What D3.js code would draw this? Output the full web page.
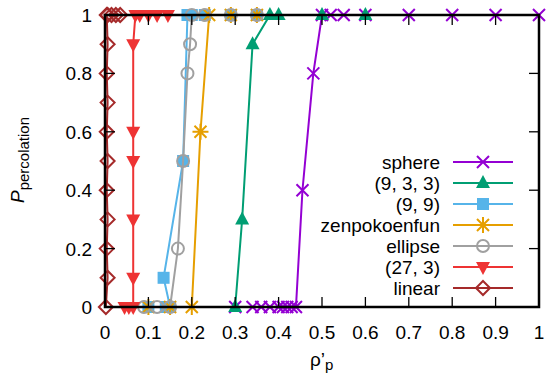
<!DOCTYPE html>
<html>
<head>
<meta charset="utf-8">
<script src="https://cdn.jsdelivr.net/npm/d3@7"></script>
<style>
body { margin: 0; background: #fff; }
text { font-family: "Liberation Sans", Arial, sans-serif; }
</style>
</head>
<body>
<svg width="547" height="383"></svg>
<script>
// series names, in the order they are drawn (and listed)
var names = ["sphere", "(9, 3, 3)", "(9, 9)", "zenpokoenfun", "ellipse", "(27, 3)", "linear"];
var colors = ["#9400d3", "#009e73", "#56b4e9", "#e69f00", "#a0a0a0", "#ee3333", "#a52a2a"];
var shapes = ["cross", "triUp", "square", "star", "circle", "triDown", "diamond"];

// rho'_p values and P_percolation values
var sphereX = [0.30, 0.34, 0.36, 0.38, 0.40, 0.41, 0.42, 0.43, 0.44, 0.455, 0.48, 0.50, 0.52, 0.55, 0.60, 0.70, 0.80, 0.90, 1.00];
var sphereY = [0, 0, 0, 0, 0, 0, 0, 0, 0, 0.4, 0.8, 1, 1, 1, 1, 1, 1, 1, 1];
var g933X = [0.30, 0.316, 0.34, 0.38, 0.40, 0.50, 0.60];
var g933Y = [0, 0.3, 0.9, 1, 1, 1, 1];
var g99X = [0.10, 0.14, 0.15, 0.135, 0.18, 0.19, 0.20, 0.23, 0.29, 0.35];
var g99Y = [0, 0, 0, 0.1, 0.5, 1, 1, 1, 1, 1];
var zenX = [0.10, 0.15, 0.20, 0.22, 0.24, 0.29, 0.35];
var zenY = [0, 0, 0, 0.6, 1, 1, 1];
var ellX = [0.09, 0.12, 0.15, 0.168, 0.18, 0.19, 0.196, 0.20, 0.23, 0.29, 0.35];
var ellY = [0, 0, 0, 0.2, 0.5, 0.8, 0.9, 1, 1, 1, 1];
var g273X = [0.045, 0.055, 0.065, 0.065, 0.065, 0.065, 0.065, 0.065, 0.07, 0.08, 0.10, 0.12, 0.145];
var g273Y = [0, 0, 0, 0.1, 0.3, 0.5, 0.6, 0.9, 1, 1, 1, 1, 1];
var linX = [0.002, 0.006, 0.004, 0.006, 0.004, 0.006, 0.004, 0.006, 0.004, 0.006, 0.004, 0.006, 0.015, 0.025, 0.035];
var linY = [0, 0.1, 0.2, 0.3, 0.4, 0.5, 0.6, 0.7, 0.8, 0.9, 1, 1, 1, 1, 1];

var xTicks = [0, 0.1, 0.2, 0.3, 0.4, 0.5, 0.6, 0.7, 0.8, 0.9, 1];
var yTicks = [0, 0.2, 0.4, 0.6, 0.8, 1];

var seriesX = [sphereX, g933X, g99X, zenX, ellX, g273X, linX];
var seriesY = [sphereY, g933Y, g99Y, zenY, ellY, g273Y, linY];

var svg = d3.select("svg");
var x = d3.scaleLinear().domain([0, 1]).range([105, 539]);
var y = d3.scaleLinear().domain([0, 1]).range([307, 15]);

function marker(sel, shape, cx, cy, color) {
    var s = 6;
    var g = sel.append("g").attr("transform", "translate(" + cx + "," + cy + ")");
    if (shape == "cross") {
        g.append("path").attr("d", "M-6,-6L6,6M-6,6L6,-6")
            .attr("stroke", color).attr("stroke-width", 2);
    } else if (shape == "star") {
        g.append("path").attr("d", "M-6,-6L6,6M-6,6L6,-6M-8,0L8,0M0,-8L0,8")
            .attr("stroke", color).attr("stroke-width", 2);
    } else if (shape == "triUp") {
        g.append("path").attr("d", "M0,-8L7,5L-7,5Z").attr("fill", color);
    } else if (shape == "triDown") {
        g.append("path").attr("d", "M0,8L7,-5L-7,-5Z").attr("fill", color);
    } else if (shape == "square") {
        g.append("rect").attr("x", -s).attr("y", -s).attr("width", 2 * s).attr("height", 2 * s).attr("fill", color);
    } else if (shape == "circle") {
        g.append("circle").attr("r", 6).attr("fill", "none").attr("stroke", color).attr("stroke-width", 2);
    } else if (shape == "diamond") {
        g.append("path").attr("d", "M0,-7L7,0L0,7L-7,0Z").attr("fill", "none")
            .attr("stroke", color).attr("stroke-width", 2);
    }
}

// data
var line = d3.line().x(function (d) { return x(d[0]); }).y(function (d) { return y(d[1]); });
var plot = svg.append("g");
for (var i = 0; i < names.length; i++) {
    var pts = d3.zip(seriesX[i], seriesY[i]);
    var gs = plot.append("g");
    gs.append("path").datum(pts).attr("d", line)
        .attr("fill", "none").attr("stroke", colors[i]).attr("stroke-width", 2);
    pts.forEach(function (p) { marker(gs, shapes[i], x(p[0]), y(p[1]), colors[i]); });
}

// ticks (inward, mirrored)
var axes = svg.append("g").attr("stroke", "#000").attr("stroke-width", 1.3);
xTicks.forEach(function (t) {
    axes.append("line").attr("x1", x(t)).attr("x2", x(t)).attr("y1", y(0)).attr("y2", y(0) - 10);
    axes.append("line").attr("x1", x(t)).attr("x2", x(t)).attr("y1", y(1)).attr("y2", y(1) + 10);
});
yTicks.forEach(function (t) {
    axes.append("line").attr("x1", x(0)).attr("x2", x(0) + 10).attr("y1", y(t)).attr("y2", y(t));
    axes.append("line").attr("x1", x(1)).attr("x2", x(1) - 10).attr("y1", y(t)).attr("y2", y(t));
});
svg.append("rect").attr("x", x(0)).attr("y", y(1))
    .attr("width", x(1) - x(0)).attr("height", y(0) - y(1))
    .attr("fill", "none").attr("stroke", "#000").attr("stroke-width", 2.5);

// tick labels
svg.selectAll(".xl").data(xTicks).enter().append("text")
    .attr("x", function (d) { return x(d); }).attr("y", 339)
    .attr("text-anchor", "middle").attr("font-size", 19)
    .text(function (d) { return d; });
svg.selectAll(".yl").data(yTicks).enter().append("text")
    .attr("x", 92).attr("y", function (d) { return y(d) + 7; })
    .attr("text-anchor", "end").attr("font-size", 19)
    .text(function (d) { return d; });

// axis titles
var xt = svg.append("text").attr("x", 310).attr("y", 366).attr("font-size", 19);
xt.append("tspan").text("ρ’");
xt.append("tspan").attr("font-size", 15).attr("dy", 4).text("p");
var yt = svg.append("text").attr("transform", "translate(24,160) rotate(-90)")
    .attr("text-anchor", "middle").attr("font-size", 19);
yt.append("tspan").attr("font-style", "italic").text("P");
yt.append("tspan").attr("font-size", 15).attr("dy", 5).text("percolation");

// legend
var rowY = [162, 183, 204, 225, 246, 267, 288];
for (var j = 0; j < names.length; j++) {
    svg.append("text").attr("x", 440).attr("y", rowY[j] + 7)
        .attr("text-anchor", "end").attr("font-size", 19).text(names[j]);
    svg.append("line").attr("x1", 453).attr("x2", 513).attr("y1", rowY[j]).attr("y2", rowY[j])
        .attr("stroke", colors[j]).attr("stroke-width", 2);
    marker(svg, shapes[j], 483, rowY[j], colors[j]);
}
</script>
</body>
</html>
